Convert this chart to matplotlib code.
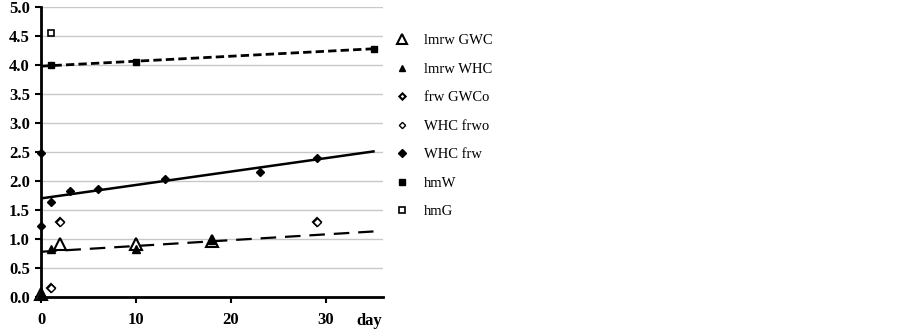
import matplotlib
matplotlib.use("Agg")
import matplotlib.pyplot as plt
from matplotlib.ticker import FormatStrFormatter

# Data
lmrw_gwc_x = [0, 2, 10, 18]
lmrw_gwc_y = [0.05, 0.92, 0.92, 0.96]
lmrw_whc_x = [0, 1, 10, 18]
lmrw_whc_y = [0.05, 0.83, 0.82, 0.98]
frw_gwco_x = [1, 2, 29]
frw_gwco_y = [0.15, 1.30, 1.30]
whc_frwo_x = [1, 2, 29]
whc_frwo_y = [0.15, 1.30, 1.30]
whc_frw_x = [0, 0, 1, 3, 6, 13, 23, 29]
whc_frw_y = [2.48, 1.23, 1.63, 1.82, 1.86, 2.03, 2.16, 2.40]
hmw_x = [1, 10, 35]
hmw_y = [4.00, 4.05, 4.28]
hmg_x = [1]
hmg_y = [4.55]

trend_x = [0, 35]
trend_hmw = [3.98, 4.28]
trend_frw = [1.70, 2.51]
trend_lmrw = [0.78, 1.13]

xticks = [0, 10, 20, 30]
yticks = [0.0, 0.5, 1.0, 1.5, 2.0, 2.5, 3.0, 3.5, 4.0, 4.5, 5.0]

plt.rcParams['font.family'] = ['Liberation Serif', 'DejaVu Serif']

fig = plt.figure(figsize=(9.02, 3.33), dpi=100)
ax = fig.add_axes([41/902, 1-297/333, (383-41)/902, (297-7)/333])

# trend lines
ax.plot(trend_x, trend_hmw, color='black', lw=2, linestyle=(0, (3, 1.5)), zorder=2)
ax.plot(trend_x, trend_frw, color='black', lw=1.8, linestyle='-', zorder=2)
ax.plot(trend_x, trend_lmrw, color='black', lw=1.6, linestyle=(0, (7, 4)), zorder=2)

k = dict(linestyle='none', color='black', zorder=3, clip_on=False)
h1, = ax.plot(lmrw_gwc_x, lmrw_gwc_y, marker='^', ms=9, mfc='white', mew=1.5, label='lmrw GWC', **k)
h2, = ax.plot(lmrw_whc_x, lmrw_whc_y, marker='^', ms=6, mfc='black', label='lmrw WHC', **k)
h3, = ax.plot(frw_gwco_x, frw_gwco_y, marker='D', ms=4, mfc='white', mew=1.5, label='frw GWCo', **k)
h4, = ax.plot(whc_frwo_x, whc_frwo_y, marker='D', ms=4, mfc='white', mew=1.0, label='WHC frwo', **k)
h5, = ax.plot(whc_frw_x, whc_frw_y, marker='D', ms=4.5, mfc='black', label='WHC frw', **k)
h6, = ax.plot(hmw_x, hmw_y, marker='s', ms=5, mfc='black', label='hmW', **k)
h7, = ax.plot(hmg_x, hmg_y, marker='s', ms=5, mfc='white', mew=1.2, label='hmG', **k)

ax.set_xlim(0, 36)
ax.set_ylim(0, 5.0)
ax.set_xticks(xticks)
ax.set_yticks(yticks)
ax.yaxis.set_major_formatter(FormatStrFormatter('%.1f'))
ax.grid(axis='y', color='#c8c8c8', lw=1)
ax.set_axisbelow(True)
for s in ['top', 'right']:
    ax.spines[s].set_visible(False)
for s in ['left', 'bottom']:
    ax.spines[s].set_linewidth(2)
    ax.spines[s].set_zorder(4)
ax.tick_params(axis='both', length=4, width=1.5, direction='out', labelsize=12, pad=4)
ax.tick_params(axis='x', pad=7)
for lab in ax.get_xticklabels() + ax.get_yticklabels():
    lab.set_fontweight('bold')
ax.text(34.6, -0.055, 'day', transform=ax.get_xaxis_transform(), ha='center', va='top',
        fontsize=12, fontweight='bold')

leg = fig.legend(handles=[h1, h2, h3, h4, h5, h6, h7], loc='upper left',
                 bbox_to_anchor=(395/902, 1-34/333), frameon=False,
                 fontsize=10.5, labelspacing=1.05, handlelength=1.0,
                 handletextpad=1.0, markerscale=0.8, borderaxespad=0, borderpad=0)

fig.savefig('out.png', dpi=100)
